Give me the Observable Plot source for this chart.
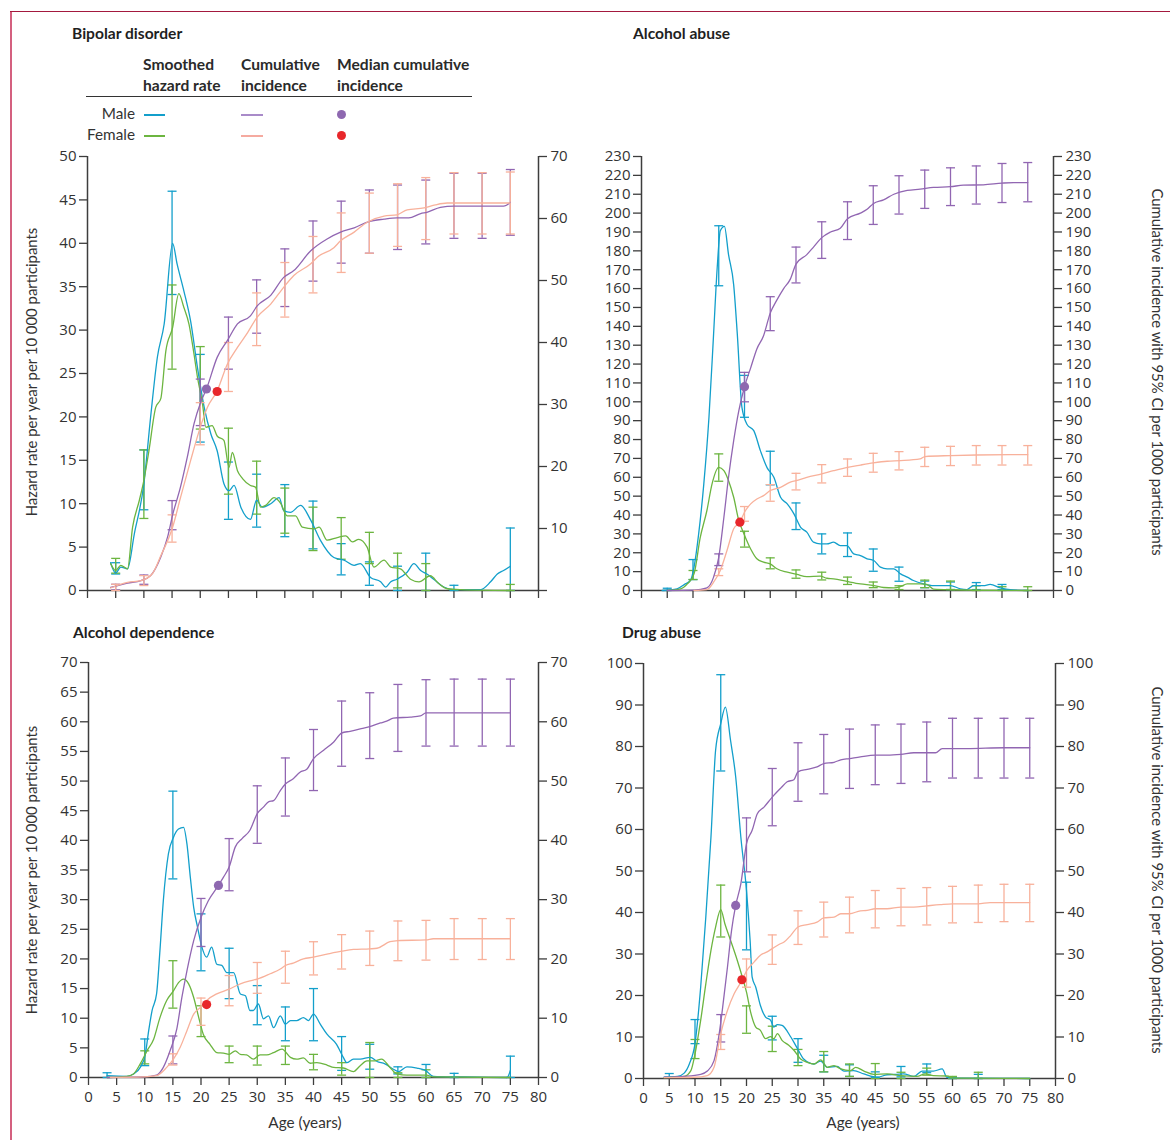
<!DOCTYPE html>
<html><head><meta charset="utf-8">
<script src="https://cdn.jsdelivr.net/npm/d3@7"></script>
<script src="https://cdn.jsdelivr.net/npm/@observablehq/plot@0.6"></script>
<style>
body{margin:0;background:#fff;}
#fig{position:relative;width:1170px;height:1140px;font-family:Lato,"Open Sans",sans-serif;color:#333;overflow:hidden;background:#fff}
.abs{position:absolute;white-space:nowrap}
.title{font-weight:700;font-size:15.6px;color:#1f1f1f;line-height:20px}
.hdr{font-weight:700;font-size:15.6px;color:#2a2a2a;line-height:21px}
.lab{font-size:15.3px;color:#333;line-height:20px}
.rot{transform:translate(-50%,-50%) rotate(-90deg);font-size:14.9px;color:#333}
.rotr{transform:translate(-50%,-50%) rotate(90deg);font-size:14.9px;color:#333}
.ctr{transform:translate(-50%,-50%);font-size:15.3px;color:#333}
svg{position:absolute}
</style></head><body><div id="fig"></div>
<script>
// ---------- tick arrays ----------
const ageTicks = [0,5,10,15,20,25,30,35,40,45,50,55,60,65,70,75,80];
const bipolarLeftTicks = [0,5,10,15,20,25,30,35,40,45,50];
const bipolarRightTicks = [0,10,20,30,40,50,60,70];
const alcoholAbuseTicks = [0,10,20,30,40,50,60,70,80,90,100,110,120,130,140,150,160,170,180,190,200,210,220,230];
const alcoholDependenceLeftTicks = [0,5,10,15,20,25,30,35,40,45,50,55,60,65,70];
const alcoholDependenceRightTicks = [0,10,20,30,40,50,60,70];
const drugAbuseTicks = [0,10,20,30,40,50,60,70,80,90,100];

// ---------- Bipolar disorder ----------
const bipolarMaleHazard = [[4.1,3.2],[5.0,2.0],[5.9,2.7],[7.1,2.5],[8.3,6.5],[10.0,12.3],[11.2,20],[12.4,26.9],[13.6,30.7],[15.1,40],[15.9,37.6],[17.1,34.5],[18.3,31],[19.5,25.7],[20.7,21.1],[21.9,18],[23.0,16.1],[24.2,12.3],[25.1,11.5],[26.0,12.1],[27.2,9.6],[28.9,8.2],[30.0,10.4],[31.0,9.6],[32.5,10],[34.0,10.7],[34.8,9.2],[36.0,9],[37.8,9.8],[39.6,8.1],[41.3,5.8],[43.7,3.8],[45.5,3.5],[47.3,2.9],[48.4,3.1],[50.2,1.5],[52.0,1.0],[52.9,0.4],[53.8,1.0],[54.9,1.3],[56.7,2.1],[57.9,3.1],[59.1,2.3],[60.2,1.9],[61.4,1.3],[63.2,0.4],[65.0,0.1],[69.7,0.1],[71.5,1.0],[72.7,1.9],[73.8,2.3],[75.0,2.8]];
const bipolarFemaleHazard = [[4.1,3.1],[5.0,2.3],[5.9,2.9],[7.1,2.5],[8.0,7.3],[9.2,10.4],[10.0,12.7],[10.9,16.1],[12.1,21.1],[13.0,22.1],[13.9,27.6],[15.1,30.3],[16.2,34.2],[17.1,32.6],[18.0,30.7],[18.9,27.2],[19.5,24.6],[20.4,21.5],[21.0,18.8],[22.1,19.0],[23.0,17.8],[24.2,17.3],[25.1,14.2],[25.7,15.9],[26.6,13.8],[27.5,12.9],[28.9,12.1],[29.8,11.9],[30.7,9.6],[31.6,9.8],[33.1,10.7],[34.3,10],[35.4,8.6],[36.9,8.6],[38.1,7.3],[40.2,7.1],[41.1,7.3],[42.5,5.8],[44.3,6.1],[45.8,6.3],[47.0,5.6],[48.1,5.9],[49.6,5.0],[50.8,2.7],[52.6,3.5],[53.8,2.7],[55.5,2.5],[57.3,1.3],[58.8,1.0],[60.8,1.7],[62.3,0.8],[63.8,0.2],[66.2,0.1],[75,0]];
const bipolarMaleCum = [[4.1,0.5],[7.1,1.2],[9.5,1.6],[11.2,2.4],[13.0,5.4],[14.2,8.6],[15.1,12.2],[16.5,16.7],[17.7,21.5],[18.9,26.9],[20.1,30.4],[21.1,32.5],[23.0,37.6],[24.8,40.3],[26.6,43],[28.9,44.3],[30.1,45.9],[32.5,47.6],[34.8,50.5],[36.6,51.6],[39.6,54.8],[42.5,56.7],[44.9,57.8],[47.3,58.5],[49.9,59.5],[52.6,59.9],[54.9,60.1],[57.0,60.1],[59.1,60.8],[60.2,61.0],[62.6,61.8],[65.0,62.0],[73.8,62.0],[75.0,62.6]];
const bipolarFemaleCum = [[4.1,0.4],[7.1,1.3],[9.5,1.6],[11.5,2.7],[13.0,5.6],[15.1,10.2],[16.5,15],[18.3,21],[20.1,26.6],[21.3,29.6],[23.0,32.2],[24.8,36.5],[26.6,39.2],[28.4,41.6],[30.1,44.1],[32.5,46.2],[34.8,48.9],[36.6,50.8],[39.6,52.7],[40.8,53.8],[43.7,55.3],[44.9,56.4],[47.3,57.8],[49.6,59.4],[52.6,60.4],[54.9,60.6],[56.7,61.4],[59.7,61.7],[61.7,62.2],[63.8,62.5],[75,62.5]];
const bipolarMaleHazardCI = [[5,1.9,3.2],[10,9.3,16.2],[15,34.1,46.0],[20,17.1,27.2],[25,8.2,14.8],[30,7.3,13.4],[35,6.2,12.2],[40,4.8,10.3],[45,1.8,5.4],[50,0.6,3.3],[55,0,2.8],[60,0,4.3],[65,0,0.6],[75,0,7.2]];
const bipolarFemaleHazardCI = [[5,2.0,3.7],[10,8.3,16.2],[15,25.5,35.2],[20,18.6,28.1],[25,11.1,18.7],[30,8.8,14.9],[35,6.6,11.8],[40,4.6,9.6],[45,3.6,8.4],[50,3.1,6.7],[55,0.3,4.3],[60,0,3.1],[75,0,0.7]];
const bipolarMaleCumCI = [[5,0.1,1.0],[10,1.0,2.5],[15,9.8,14.5],[20,26.6,34.1],[25,35.7,44.1],[30,41.5,50.1],[35,45.8,55.1],[40,49.9,59.6],[45,52.8,62.8],[50,54.4,64.6],[55,55,65.4],[60,55.9,66.2],[65,56.8,67.3],[70,56.8,67.3],[75,57.3,67.9]];
const bipolarFemaleCumCI = [[5,0,1.0],[10,0.8,2.4],[15,7.8,12.2],[20,23.5,30.3],[25,32.1,40.0],[30,39.5,48],[35,44.1,52.9],[40,48,57.1],[45,51.3,60.9],[50,54.4,64.1],[55,55.5,65.6],[60,56.6,66.6],[65,57.5,67.4],[70,57.5,67.4],[75,57.5,67.5]];
const bipolarMedians = [[21.1,32.5],[23.0,32.1]]; // male, female

// ---------- Alcohol abuse ----------
const alcoholAbuseMaleHazard = [[4.0,0],[6.9,0.9],[8.5,3.5],[9.5,5.3],[10.2,12.4],[11.1,30],[12.1,56.5],[13.1,91.8],[14.0,136],[14.7,171],[15.3,190.6],[16.1,193],[16.9,178],[17.9,162],[18.6,136],[19.5,97],[20.5,88],[21.8,84.7],[23.1,74],[24.4,65],[25.7,60],[27.0,49.4],[28.3,45.9],[29.6,40.6],[30.9,33.5],[32.1,30.9],[33.4,25.6],[34.7,24.7],[36.0,24.7],[37.3,25.6],[38.6,23.8],[39.9,23.8],[41.2,19.4],[42.5,18.5],[43.8,16.8],[45.1,15.9],[46.4,12.4],[47.7,11.5],[49.0,11.5],[50.3,8.8],[51.6,7.1],[52.8,5.3],[54.8,3.5],[56.7,2.6],[60.0,2.6],[61.9,0.9],[63.2,0.5],[64.5,2.6],[66.4,2.6],[67.7,3.2],[69.7,1.4],[71.6,0.4],[75,0]];
const alcoholAbuseFemaleHazard = [[5.0,0],[7.6,0.9],[8.9,3.5],[10.2,8.8],[11.4,28],[12.7,42.4],[13.7,56.5],[15.0,65.3],[16.0,63.5],[16.9,58.2],[17.9,49.4],[18.9,37],[19.9,30],[21.2,22],[22.4,16.8],[23.7,15],[25.0,14.1],[26.3,11.5],[28.3,9.7],[30.2,8.5],[32.1,7.4],[34.7,7.6],[36.0,6.5],[37.3,6.2],[39.9,4.8],[42.5,3.5],[45.1,2.6],[47.0,1.6],[49.0,1.4],[50.3,2.1],[51.6,3.5],[54.1,3.5],[55.4,3.2],[56.7,0.7],[60.0,0.4],[75,0]];
const alcoholAbuseMaleCum = [[5.0,0],[10.2,0.2],[12.7,1.4],[14.0,7.1],[15.0,17.6],[16.0,38.8],[16.9,60],[17.9,79.4],[18.9,95.3],[20.0,108],[21.2,118],[22.4,128],[23.7,135],[25.0,147],[26.3,154],[27.6,160],[28.9,165],[30.0,173],[32.1,178],[33.4,182],[35.0,187],[36.7,190],[38.6,192],[40.0,197],[42.5,200],[43.8,202],[45.0,205],[47.0,207],[49.0,210],[51.6,212],[54.1,212.7],[56.7,213.6],[60.0,214],[62.5,214.8],[66.4,215],[70.0,215.9],[72.3,216.2],[75,216.2]];
const alcoholAbuseFemaleCum = [[10.2,0],[12.7,0.5],[14.0,4.4],[15.3,10.6],[16.6,21.2],[17.9,32.7],[19.1,36.2],[20.0,41.5],[21.2,45.9],[22.4,48.5],[23.7,50.3],[25.0,53],[27.0,54.7],[28.9,57.4],[30.0,58.2],[32.1,60],[35.0,61.8],[37.3,63.5],[40.0,65.3],[42.5,66.5],[45.0,67.6],[47.7,68.5],[50.3,68.8],[54.1,69.7],[55.0,71],[60.0,71.5],[65.0,71.8],[75,72]];
const alcoholAbuseMaleHazardCI = [[5,0,1.2],[10,5.8,16.4],[15,161.5,193.3],[20,91.8,114],[25,56,73.8],[30,32.3,46.4],[35,19.4,30],[40,18,30.5],[45,10.2,22],[50,4.9,12.4],[55,1.5,5],[60,0.5,4.5],[65,0.5,4.2],[70,0.5,3.2]];
const alcoholAbuseFemaleHazardCI = [[10,5.8,10.6],[15,57.9,72.4],[20,23,31.4],[25,11.5,17.3],[30,6.5,10.9],[35,5.6,9.7],[40,3.2,7.1],[45,1.5,4.5],[50,0.5,2.5],[55,1.5,5.5],[60,0.5,5],[65,0,2.5],[70,0,2],[75,0,2]];
const alcoholAbuseMaleCumCI = [[15,13.2,19.4],[20,100,115.6],[25,137.7,155.7],[30,163,182],[35,176,195.4],[40,186,206],[45,194,214.5],[50,199.5,219.8],[55,202.5,222.8],[60,204,224],[65,204.8,225],[70,205.6,226.3],[75,206,226.8]];
const alcoholAbuseFemaleCumCI = [[15,7.9,11.5],[20,36.7,44.5],[25,47.3,56.1],[30,53.3,62.1],[35,57,66.7],[40,60.5,69.7],[45,62.7,72.7],[50,63.9,73.6],[55,65.7,75.9],[60,66.2,76.4],[65,66.5,76.8],[70,66.5,76.8],[75,66.5,76.8]];
const alcoholAbuseMedians = [[20.0,108],[19.1,36.2]];

// ---------- Alcohol dependence ----------
const alcoholDependenceMaleHazard = [[3.3,0.3],[6.8,0.2],[8.0,0.6],[9.2,1.7],[10.1,3.9],[10.7,7.9],[11.3,11.3],[12.1,14.1],[12.7,21.4],[13.3,29.8],[14.2,37.7],[15.1,40.5],[16.0,41.9],[16.9,42.2],[17.5,39.4],[18.1,33.8],[18.7,28.7],[19.4,25.3],[20.1,22.2],[21.0,20.3],[21.9,22],[22.8,19.1],[23.7,18.9],[24.6,17.7],[25.8,17.7],[27.0,14.1],[27.9,13.8],[28.7,11.3],[29.3,11.3],[30.2,12.4],[31.1,9.9],[32.0,10.4],[32.9,8.4],[34.1,10.4],[35.0,9.0],[35.9,9.6],[37.0,9.6],[38.2,10.1],[39.1,9.6],[40.0,10.7],[41.2,9.0],[42.4,7.3],[44.1,5.6],[45.3,3.4],[45.9,2.5],[47.1,3.1],[48.3,3.1],[50.1,3.4],[51.3,2.7],[52.7,2.3],[54.2,1.4],[55.1,1.0],[56.6,1.8],[58.4,1.6],[59.9,1.2],[61.3,0.2],[66.1,0.1],[74.4,0],[75,1.2]];
const alcoholDependenceFemaleHazard = [[3.3,0],[6.8,0.2],[8.0,0.6],[9.2,2.3],[10.4,4.5],[11.6,6.5],[12.7,10.1],[13.9,13],[15.1,14.6],[16.0,16],[16.9,16.6],[17.8,15.8],[18.7,13.5],[19.6,10.1],[20.4,7.3],[21.6,5.6],[22.8,4.2],[24.0,4.1],[25.0,3.9],[26.1,4.5],[27.0,3.9],[28.1,3.8],[29.3,3.1],[30.5,3.8],[31.7,3.8],[32.9,4.2],[34.4,4.8],[35.9,3.4],[37.0,3.1],[38.2,3.3],[39.4,2.4],[40.6,2.5],[42.4,2.1],[43.6,1.7],[45.3,1.6],[47.1,1.0],[48.3,2.0],[49.5,2.8],[50.7,2.8],[52.1,3.1],[53.6,1.7],[54.8,0.6],[56.6,0.4],[60.1,0.4],[61.3,0.1],[75,0]];
const alcoholDependenceMaleCum = [[3.3,0],[9.8,0.1],[12.1,0.4],[13.3,1.7],[14.5,4.5],[15.7,8.2],[16.6,13.5],[17.5,18],[18.7,23.1],[20.0,27],[21.3,29.8],[23.1,32.4],[24.0,33.8],[25.0,35.5],[26.1,38.9],[27.3,40.3],[28.7,41.7],[30.0,44.5],[31.1,45.6],[32.0,46.5],[32.9,46.7],[34.1,48.4],[35.0,49.5],[36.4,50.4],[37.6,51.5],[38.8,52],[40.0,53.8],[41.8,55.2],[43.6,56.6],[45.0,58.1],[46.5,58.4],[48.3,58.8],[50.0,59.2],[51.9,59.8],[53.0,60.1],[54.2,60.6],[57.2,60.8],[59.0,61],[60.0,61.5],[75,61.5]];
const alcoholDependenceFemaleCum = [[3.9,0],[9.8,0.1],[12.1,0.3],[13.9,1.7],[15.1,3.1],[16.3,5.1],[17.5,7.9],[18.7,10.7],[20.0,11.9],[21.0,13],[22.8,14.1],[25.0,14.9],[27.0,15.8],[28.7,16.3],[30.0,16.6],[32.3,17.5],[34.1,18.3],[35.0,18.9],[36.4,19.3],[38.2,20],[40.0,20.3],[42.4,20.8],[45.0,21.3],[47.1,21.6],[50.0,21.7],[51.3,21.8],[53.6,22.9],[55.0,23.1],[60.0,23.2],[61.3,23.4],[75,23.4]];
const alcoholDependenceMaleHazardCI = [[3.3,0,0.8],[10,2,6.5],[15,33.5,48.3],[20,18,27.6],[25,13.3,21.8],[30,8.9,15.5],[35,6.2,11.9],[40,6.2,15],[45,1.2,6.9],[50,1.4,5.6],[55,0.6,1.8],[60,0,2.2],[65,0,0.7],[75,0,3.6]];
const alcoholDependenceFemaleHazardCI = [[10,2.3,4.5],[15,11.7,19.7],[20,6.9,12.1],[25,2.5,5.3],[30,2.1,5.3],[35,2.2,5.3],[40,1.3,3.9],[45,0.4,2.5],[50,0,5.9],[55,0,0.8],[60,0,1.3]];
const alcoholDependenceMaleCumCI = [[15,2.3,7.0],[20,22.1,30.2],[25,31.5,40.3],[30,39.5,49.2],[35,44.1,53.9],[40,48.4,58.7],[45,52.5,63.5],[50,53.8,64.9],[55,55,66.3],[60,55.9,67.1],[65,55.9,67.2],[70,55.9,67.2],[75,55.9,67.2]];
const alcoholDependenceFemaleCumCI = [[15,2.1,4],[20,8.8,13.4],[25,12.1,17.2],[30,14.2,19.4],[35,15.9,21.3],[40,17.3,22.9],[45,18.3,24.1],[50,18.9,24.7],[55,19.7,26.4],[60,19.8,26.5],[65,19.9,26.8],[70,19.9,26.8],[75,19.9,26.8]];
const alcoholDependenceMedians = [[23.1,32.4],[21.0,12.3]];

// ---------- Drug abuse ----------
const drugAbuseMaleHazard = [[4.0,0.3],[6.6,0.5],[7.9,1.3],[8.9,3.5],[10.0,8.4],[11.1,22],[12.1,38.9],[13.1,58.2],[14.0,79.1],[15.0,85.5],[15.9,89.5],[16.9,81.5],[17.9,72.7],[18.9,58.2],[20.0,45.3],[20.7,33.3],[21.1,24.4],[21.8,22],[22.7,17.6],[23.7,14.8],[24.7,14],[25.3,12.4],[26.0,13],[26.9,12.8],[28.6,10],[29.9,7.2],[31.1,4.7],[33.1,3.5],[34.4,4.2],[35.7,2.7],[37.6,2.9],[38.9,1.8],[40.8,1.9],[42.8,1.1],[45.4,0.3],[47.3,0.9],[49.2,1.0],[50.5,1.1],[52.5,0.5],[54.1,1.8],[56.3,1.8],[58.0,2.3],[58.9,0.3],[60.2,0.1],[75,0]];
const drugAbuseFemaleHazard = [[4.0,0.2],[7.9,0.5],[9.2,1.9],[10.0,5.9],[11.1,14],[12.1,22.8],[13.1,30.9],[14.0,36.5],[15.0,40.7],[15.8,37.3],[16.9,33.3],[18.2,28.5],[19.2,24.4],[20.0,20.8],[20.8,16],[21.8,12.4],[22.7,11.6],[23.7,9.6],[24.7,10.1],[25.3,9.6],[26.0,10.8],[26.9,9.2],[28.2,8],[29.2,6.8],[30.5,4.7],[31.8,3.9],[33.1,3.5],[34.4,4.5],[35.7,2.7],[37.0,3.1],[38.3,2.3],[40.2,1.9],[41.2,2.7],[42.8,1.8],[44.7,1.0],[47.3,1.1],[49.9,0.7],[53.1,0.5],[54.7,1.1],[56.3,0.7],[58.9,0.6],[60.2,0.1],[75,0]];
const drugAbuseMaleCum = [[4.0,0.3],[7.9,0.5],[11.1,1.0],[12.4,1.8],[13.7,4.3],[14.7,10.8],[15.3,16.4],[16.3,26.8],[17.1,35.7],[17.9,41.7],[18.9,46.9],[20.0,56.6],[21.1,59.8],[22.1,63.8],[23.4,65.4],[25.0,67.8],[26.6,69.9],[27.9,71.5],[29.2,72],[30.0,73.9],[31.8,74.5],[33.7,75.1],[35.0,75.9],[37.0,76.2],[38.3,76.8],[40.0,77.1],[42.1,77.5],[45.0,77.9],[47.3,77.9],[50.0,78.1],[52.5,78.5],[56.7,78.5],[58.0,79.5],[62.8,79.5],[70.0,79.7],[75,79.7]];
const drugAbuseFemaleCum = [[4.0,0.2],[9.8,0.3],[12.4,0.7],[13.7,2.7],[15.0,10.8],[16.3,16.4],[17.6,20.4],[19.1,23.6],[20.0,25.9],[21.5,28.1],[22.7,29.7],[24.0,30.5],[25.0,31.3],[26.3,32.3],[27.3,32.9],[28.6,34.5],[30.0,36.5],[31.8,37.1],[33.7,37.7],[35.0,38.7],[37.0,38.9],[38.3,39.7],[40.0,39.7],[42.1,40.4],[43.4,40.5],[45.0,40.9],[47.3,40.9],[50.0,41.3],[52.5,41.3],[55.0,41.6],[57.6,41.9],[60.0,42.1],[65.0,42.1],[67.3,42.4],[75,42.4]];
const drugAbuseMaleHazardCI = [[5,0.3,1.2],[10,8.4,14.2],[15,74.1,97.3],[20,31,47.3],[25,9.3,15],[30,3.9,9.6],[35,1.6,5.6],[40,0.5,3.3],[45,0.3,1.6],[50,0.4,2.9],[55,1.4,3.5],[60,0,0.3],[65,0,1.0]];
const drugAbuseFemaleHazardCI = [[10,4.8,9.4],[15,34.1,46.6],[20,10.9,17.5],[25,6.5,12.6],[30,3.1,7],[35,1.6,6.5],[40,0.5,3.5],[45,0,3.6],[50,0,1.5],[55,0.8,2.5],[60,0,0.5],[65,0,1.5]];
const drugAbuseMaleCumCI = [[15,8.8,15.4],[20,49.8,62.8],[25,60.9,74.7],[30,66.8,80.9],[35,68.6,82.9],[40,69.9,84.2],[45,70.8,85.2],[50,71.1,85.4],[55,71.5,85.9],[60,72.4,86.8],[65,72.4,86.8],[70,72.4,86.8],[75,72.4,86.8]];
const drugAbuseFemaleCumCI = [[15,7,10.6],[20,22,28.8],[25,27.5,34.6],[30,32.3,40.4],[35,34.1,42.5],[40,35.1,43.7],[45,36.3,45.3],[50,36.8,45.8],[55,37,46],[60,37.5,46.3],[65,37.6,46.6],[70,37.8,46.8],[75,37.8,46.8]];
const drugAbuseMedians = [[17.9,41.7],[19.1,23.8]];

// ---------- styling ----------
const BLUE = "#139fcb", GREEN = "#6cb540", PURPLE = "#9166b2", SALMON = "#f8b19b", RED = "#e8272b", MEDPURPLE = "#8e68b0";
const AXIS = "#3d3d3d";
const capSymbol = {draw(ctx) { ctx.moveTo(-4.5, 0); ctx.lineTo(4.5, 0); }};

const fig = document.getElementById("fig");

function addDiv(cls, text, css) {
  const d = document.createElement("div");
  d.className = "abs " + cls;
  d.innerHTML = text;
  Object.assign(d.style, css);
  fig.appendChild(d);
  return d;
}

function makePanel(cfg) {
  const k = cfg.yMax / cfg.rMax;
  const pts = a => a.map(([x, y]) => ({x, y}));
  const cis = a => a.map(([x, lo, hi]) => ({x, lo, hi}));
  const lineMark = (arr, color, s) => Plot.line(pts(arr), {x: "x", y: d => d.y * s, stroke: color, strokeWidth: 1.3, curve: "monotone-x"});
  const ciMarks = (arr, color, s) => {
    const d = cis(arr);
    return [
      Plot.ruleX(d, {x: "x", y1: e => e.lo * s, y2: e => e.hi * s, stroke: color, strokeWidth: 1.3}),
      Plot.dot(d, {x: "x", y: e => e.lo * s, symbol: capSymbol, stroke: color, strokeWidth: 1.3, fill: "none"}),
      Plot.dot(d, {x: "x", y: e => e.hi * s, symbol: capSymbol, stroke: color, strokeWidth: 1.3, fill: "none"})
    ];
  };
  const svg = Plot.plot({
    width: cfg.width, height: cfg.height,
    marginLeft: cfg.mL, marginRight: cfg.mR, marginTop: cfg.mT, marginBottom: cfg.mB,
    x: {domain: [0, 80], label: null},
    y: {domain: [0, cfg.yMax], label: null},
    style: {fontFamily: "'Open Sans', Lato, sans-serif", fontSize: "15px", color: AXIS, background: "transparent", overflow: "visible"},
    marks: [
      Plot.axisX({ticks: ageTicks, tickSize: 8, tickPadding: 6, strokeWidth: 1.3, label: null,
        tickFormat: cfg.showX ? (d => String(d)) : (() => ""), fill: "#333"}),
      Plot.axisY({anchor: "left", ticks: cfg.leftTicks, tickSize: 8, tickPadding: 3, strokeWidth: 1.3, label: null, fill: "#333"}),
      Plot.axisY({anchor: "right", ticks: cfg.rightTicks.map(v => v * k), tickSize: 8, tickPadding: 4, strokeWidth: 1.3, label: null, fill: "#333",
        tickFormat: v => { const r = Math.round(v / k); return (r === 0 && !cfg.rightZero) ? "" : String(r); }}),
      Plot.ruleX([0], {stroke: AXIS, strokeWidth: 1.5}),
      Plot.ruleX([80], {stroke: AXIS, strokeWidth: 1.5}),
      Plot.ruleY([0], {stroke: AXIS, strokeWidth: 1.5}),
      ...ciMarks(cfg.maleHazCI, BLUE, 1),
      ...ciMarks(cfg.femHazCI, GREEN, 1),
      lineMark(cfg.maleHaz, BLUE, 1),
      lineMark(cfg.femHaz, GREEN, 1),
      ...ciMarks(cfg.maleCumCI, PURPLE, k),
      ...ciMarks(cfg.femCumCI, SALMON, k),
      lineMark(cfg.maleCum, PURPLE, k),
      lineMark(cfg.femCum, SALMON, k),
      Plot.dot([cfg.medians[0]], {x: d => d[0], y: d => d[1] * k, r: 4.6, fill: MEDPURPLE, stroke: "none"}),
      Plot.dot([cfg.medians[1]], {x: d => d[0], y: d => d[1] * k, r: 4.6, fill: RED, stroke: "none"})
    ]
  });
  svg.style.left = cfg.left + "px";
  svg.style.top = cfg.top + "px";
  fig.appendChild(svg);
}

makePanel({left: 0, top: 140, width: 590, height: 470, mL: 87, mR: 52, mT: 16, mB: 20,
  yMax: 50, rMax: 70, leftTicks: bipolarLeftTicks, rightTicks: bipolarRightTicks, showX: false, rightZero: false,
  maleHaz: bipolarMaleHazard, femHaz: bipolarFemaleHazard, maleCum: bipolarMaleCum, femCum: bipolarFemaleCum,
  maleHazCI: bipolarMaleHazardCI, femHazCI: bipolarFemaleHazardCI, maleCumCI: bipolarMaleCumCI, femCumCI: bipolarFemaleCumCI,
  medians: bipolarMedians});
makePanel({left: 590, top: 140, width: 580, height: 470, mL: 51, mR: 117, mT: 16, mB: 20,
  yMax: 230, rMax: 230, leftTicks: alcoholAbuseTicks, rightTicks: alcoholAbuseTicks, showX: false, rightZero: true,
  maleHaz: alcoholAbuseMaleHazard, femHaz: alcoholAbuseFemaleHazard, maleCum: alcoholAbuseMaleCum, femCum: alcoholAbuseFemaleCum,
  maleHazCI: alcoholAbuseMaleHazardCI, femHazCI: alcoholAbuseFemaleHazardCI, maleCumCI: alcoholAbuseMaleCumCI, femCumCI: alcoholAbuseFemaleCumCI,
  medians: alcoholAbuseMedians});
makePanel({left: 0, top: 645, width: 590, height: 495, mL: 88, mR: 52, mT: 17, mB: 63,
  yMax: 70, rMax: 70, leftTicks: alcoholDependenceLeftTicks, rightTicks: alcoholDependenceRightTicks, showX: true, rightZero: true,
  maleHaz: alcoholDependenceMaleHazard, femHaz: alcoholDependenceFemaleHazard, maleCum: alcoholDependenceMaleCum, femCum: alcoholDependenceFemaleCum,
  maleHazCI: alcoholDependenceMaleHazardCI, femHazCI: alcoholDependenceFemaleHazardCI, maleCumCI: alcoholDependenceMaleCumCI, femCumCI: alcoholDependenceFemaleCumCI,
  medians: alcoholDependenceMedians});
makePanel({left: 590, top: 645, width: 580, height: 495, mL: 53, mR: 115, mT: 18, mB: 62,
  yMax: 100, rMax: 100, leftTicks: drugAbuseTicks, rightTicks: drugAbuseTicks, showX: true, rightZero: true,
  maleHaz: drugAbuseMaleHazard, femHaz: drugAbuseFemaleHazard, maleCum: drugAbuseMaleCum, femCum: drugAbuseFemaleCum,
  maleHazCI: drugAbuseMaleHazardCI, femHazCI: drugAbuseFemaleHazardCI, maleCumCI: drugAbuseMaleCumCI, femCumCI: drugAbuseFemaleCumCI,
  medians: drugAbuseMedians});

// ---------- frame ----------
addDiv("", "", {left: "10px", top: "10.5px", width: "1.6px", height: "1130px", background: "#d4607f"});
addDiv("", "", {left: "10px", top: "10.5px", width: "1160px", height: "1.6px", background: "#a3193e"});

// ---------- titles ----------
addDiv("title", "Bipolar disorder", {left: "72px", top: "23px"});
addDiv("title", "Alcohol abuse", {left: "633px", top: "23px"});
addDiv("title", "Alcohol dependence", {left: "73px", top: "622px"});
addDiv("title", "Drug abuse", {left: "622px", top: "622px"});

// ---------- legend ----------
addDiv("hdr", "Smoothed<br>hazard rate", {left: "143px", top: "54px"});
addDiv("hdr", "Cumulative<br>incidence", {left: "241px", top: "54px"});
addDiv("hdr", "Median cumulative<br>incidence", {left: "337px", top: "54px"});
addDiv("", "", {left: "86px", top: "96px", width: "386px", height: "1.4px", background: "#333"});
addDiv("lab", "Male", {right: (1170 - 135) + "px", top: "103px"});
addDiv("lab", "Female", {right: (1170 - 135) + "px", top: "124px"});
addDiv("", "", {left: "144px", top: "113.5px", width: "21px", height: "2px", background: BLUE});
addDiv("", "", {left: "241px", top: "113.5px", width: "22px", height: "2px", background: "#a98bc9"});
addDiv("", "", {left: "337px", top: "109.7px", width: "9.2px", height: "9.2px", borderRadius: "50%", background: MEDPURPLE});
addDiv("", "", {left: "144px", top: "134.5px", width: "21px", height: "2px", background: GREEN});
addDiv("", "", {left: "241px", top: "134.5px", width: "22px", height: "2px", background: "#f5aaa0"});
addDiv("", "", {left: "337px", top: "130.7px", width: "9.2px", height: "9.2px", borderRadius: "50%", background: RED});

// ---------- axis titles ----------
addDiv("rot", "Hazard rate per year per 10 000 participants", {left: "31px", top: "372px"});
addDiv("rot", "Hazard rate per year per 10 000 participants", {left: "31px", top: "870px"});
addDiv("rotr", "Cumulative incidence with 95% CI per 1000 participants", {left: "1158px", top: "372px"});
addDiv("rotr", "Cumulative incidence with 95% CI per 1000 participants", {left: "1158px", top: "870px"});
addDiv("ctr", "Age (years)", {left: "305px", top: "1122px"});
addDiv("ctr", "Age (years)", {left: "863px", top: "1122px"});
</script>
</body></html>
